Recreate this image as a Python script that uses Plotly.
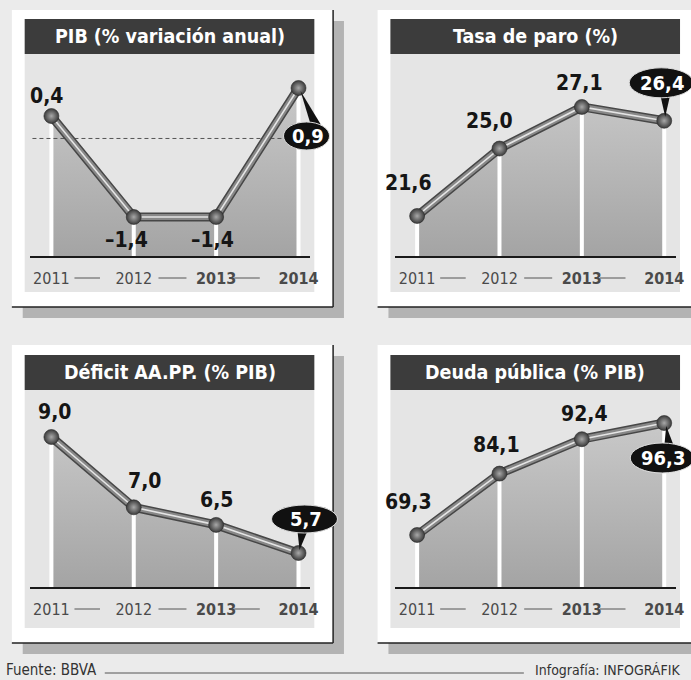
import plotly.graph_objects as go

W, H = 691, 680

# ---------------- data ----------------
years = ["2011", "2012", "2013", "2014"]
year_ticktext = ["2011", "2012", "<b>2013</b>", "<b>2014</b>"]
titles = ["PIB (% variación anual)", "Tasa de paro (%)",
          "Déficit AA.PP. (% PIB)", "Deuda pública (% PIB)"]
pib = [0.4, -1.4, -1.4, 0.9]
paro = [21.6, 25.0, 27.1, 26.4]
deficit = [9.0, 7.0, 6.5, 5.7]
deuda = [69.3, 84.1, 92.4, 96.3]
pib_reference = 0.0
source_text = "Fuente: BBVA"
credit_text = "Infografía: INFOGRÁFIK"

FONT = "DejaVu Sans Condensed, Liberation Sans Narrow, Roboto Condensed, Arial Narrow, sans-serif"

XR = [-0.264, 3.144]   # x-axis range shared by all panels


def fmt(v):
    s = f"{abs(v):.1f}".replace(".", ",")
    return ("–" + s) if v < 0 else s


def PX(px):
    return px / W


def PY(py):
    return 1 - py / H


# ---------------- panel layout (pixels) ----------------
panels = [
    dict(vals=pib, L=25, top=19, tb=54, bot=292, base=256, yr=(-2.095, 1.506),
         card=(12, 10, 337, 307),
         lab=[(-5, 20), (-7, -23), (-4, -23)], bub=(8, -48, 23, 14),
         ptr=[(2, -3), (12, -36), (22, -36)]),
    dict(vals=paro, L=395, top=19, tb=54, bot=292, base=256, yr=(19.58, 29.77),
         card=(382, 10, 707, 307),
         lab=[(-9, 33), (-10, 28), (-2, 24)], bub=(-3, 38, 32, 15),
         ptr=[(1, 4), (-4, 26), (6, 26)]),
    dict(vals=deficit, L=25, top=355, tb=390, bot=628, base=587, yr=(4.733, 10.337),
         card=(12, 345, 337, 643),
         lab=[(3, 25), (11, 26), (0, 25)], bub=(6, 34, 33, 14),
         ptr=[(1, 3), (-1, 22), (9, 22)]),
    dict(vals=deuda, L=395, top=355, tb=390, bot=628, base=587, yr=(56.76, 104.26),
         card=(382, 345, 707, 643),
         lab=[(-9, 33), (-3, 29), (3, 25)], bub=(-2, -35, 32, 15),
         ptr=[(2, -3), (0, -24), (10, -24)]),
]

fig = go.Figure()
shapes = []
annotations = []
xpos = list(range(len(years)))

for i, p in enumerate(panels):
    k = "" if i == 0 else str(i + 1)
    xa, ya = "x" + k, "y" + k
    L = p["L"]
    c0, c1, c2, c3 = p["card"]
    xdom = [PX(L + 5), PX(L + 289)]
    ydom = [PY(p["base"]), PY(p["tb"])]

    def to_paper(x, y, xdom=xdom, ydom=ydom, yr=p["yr"]):
        return (xdom[0] + (x - XR[0]) / (XR[1] - XR[0]) * (xdom[1] - xdom[0]),
                ydom[0] + (y - yr[0]) / (yr[1] - yr[0]) * (ydom[1] - ydom[0]))

    # shadow, card, card edges
    shapes.append(dict(type="rect", xref="paper", yref="paper", layer="below",
                       x0=PX(c0 + 11), x1=PX(c2 + 11), y0=PY(c1 + 11), y1=PY(c3 + 11),
                       fillcolor="#b3b3b3", line_width=0))
    shapes.append(dict(type="rect", xref="paper", yref="paper", layer="below",
                       x0=PX(c0), x1=PX(c2), y0=PY(c1), y1=PY(c3),
                       fillcolor="#ffffff", line_width=0))
    shapes.append(dict(type="line", xref="paper", yref="paper", layer="below",
                       x0=PX(c0), x1=PX(c2), y0=PY(c3), y1=PY(c3),
                       line=dict(color="#222222", width=1.5)))
    shapes.append(dict(type="line", xref="paper", yref="paper", layer="below",
                       x0=PX(c2), x1=PX(c2), y0=PY(c1), y1=PY(c3),
                       line=dict(color="#222222", width=1.5)))
    # inner panel + title bar
    shapes.append(dict(type="rect", xref="paper", yref="paper", layer="below",
                       x0=PX(L), x1=PX(L + 293), y0=PY(p["top"]), y1=PY(p["bot"]),
                       fillcolor="#e5e5e5", line_width=0))
    shapes.append(dict(type="rect", xref="paper", yref="paper", layer="below",
                       x0=PX(L), x1=PX(L + 293), y0=PY(p["top"]), y1=PY(p["tb"]),
                       fillcolor="#3c3c3c", line_width=0))
    annotations.append(dict(xref="paper", yref="paper", x=PX(L + 146.5),
                            y=PY((p["top"] + p["tb"]) / 2), text=titles[i],
                            showarrow=False, xanchor="center", yanchor="middle",
                            font=dict(family=FONT, size=19.5, color="white", weight="bold")))

    # axes
    axis_x = dict(domain=xdom, range=XR, anchor=ya, showgrid=False,
                  zeroline=False, showline=True, linecolor="#1a1a1a", linewidth=2,
                  tickvals=xpos, ticktext=year_ticktext, ticks="",
                  tickfont=dict(family=FONT, size=16, color="#4a4a4a"),
                  ticklabelstandoff=7, fixedrange=True)
    axis_y = dict(domain=ydom, range=list(p["yr"]), anchor=xa, showgrid=False,
                  zeroline=False, showline=False, showticklabels=False, fixedrange=True)
    fig.layout["xaxis" + k] = axis_x
    fig.layout["yaxis" + k] = axis_y

    vals = p["vals"]
    ylo = p["yr"][0]
    # gradient area
    fig.add_trace(go.Scatter(x=xpos + [xpos[-1], xpos[0]], y=vals + [ylo, ylo],
                             xaxis=xa, yaxis=ya, mode="none", fill="toself",
                             fillgradient=dict(type="vertical",
                                               colorscale=[[0, "#a4a4a4"], [1, "#d0d0d0"]],
                                               start=ylo, stop=p["yr"][1]),
                             hoverinfo="skip", showlegend=False))
    # white separators
    vx, vy = [], []
    for xx, v in zip(xpos, vals):
        vx += [xx, xx, None]
        vy += [ylo, v, None]
    fig.add_trace(go.Scatter(x=vx, y=vy, xaxis=xa, yaxis=ya, mode="lines",
                             line=dict(color="white", width=4), hoverinfo="skip",
                             showlegend=False))
    if i == 0:
        fig.add_trace(go.Scatter(x=[-0.23, 3.1], y=[pib_reference, pib_reference],
                                 xaxis=xa, yaxis=ya, mode="lines",
                                 line=dict(color="#555555", width=1, dash="4px,3px"),
                                 hoverinfo="skip", showlegend=False))
    # tube line
    for col, wd in [("#474747", 9), ("#888888", 6), ("#e4e4e4", 1.6)]:
        fig.add_trace(go.Scatter(x=xpos, y=vals, xaxis=xa, yaxis=ya, mode="lines",
                                 line=dict(color=col, width=wd), hoverinfo="skip",
                                 showlegend=False))
    # spheres
    fig.add_trace(go.Scatter(x=xpos, y=vals, xaxis=xa, yaxis=ya, mode="markers",
                             marker=dict(size=15, color="#3a3a3a",
                                         gradient=dict(type="radial", color="#a8a8a8"),
                                         line=dict(color="#2a2a2a", width=0.6)),
                             hoverinfo="skip", showlegend=False, cliponaxis=False))

    # value labels
    for j in range(3):
        dx, dy = p["lab"][j]
        annotations.append(dict(xref=xa, yref=ya, x=xpos[j], y=vals[j], xshift=dx, yshift=dy,
                                text=fmt(vals[j]), showarrow=False,
                                font=dict(family=FONT, size=21, color="#151515", weight="bold")))
    # bubble for last value (anchored at the last data point, converted to paper)
    ax, ay = to_paper(xpos[-1], vals[-1])
    bx, by, rx, ry = p["bub"]
    (t1x, t1y), (t2x, t2y), (t3x, t3y) = p["ptr"]
    shapes.append(dict(type="path", xref="paper", yref="paper", xsizemode="pixel",
                       ysizemode="pixel", xanchor=ax, yanchor=ay, layer="above",
                       path=f"M {t1x},{t1y} L {t2x},{t2y} L {t3x},{t3y} Z",
                       fillcolor="#111111", line_width=0))
    shapes.append(dict(type="circle", xref="paper", yref="paper", xsizemode="pixel",
                       ysizemode="pixel", xanchor=ax, yanchor=ay, layer="above",
                       x0=bx - rx, x1=bx + rx, y0=by - ry, y1=by + ry,
                       fillcolor="#111111", line=dict(color="#dddddd", width=1)))
    annotations.append(dict(xref=xa, yref=ya, x=xpos[-1], y=vals[-1], xshift=bx + 1, yshift=by,
                            text=fmt(vals[-1]), showarrow=False,
                            font=dict(family=FONT, size=20, color="white", weight="bold")))

    # dashes between year labels
    for g0, g1 in [(0.28, 0.59), (1.30, 1.64), (2.22, 2.53)]:
        shapes.append(dict(type="line", xref=xa, yref="paper", layer="below",
                           x0=g0, x1=g1, y0=PY(p["base"] + 22), y1=PY(p["base"] + 22),
                           line=dict(color="#555555", width=1)))

# footer
annotations.append(dict(xref="paper", yref="paper", x=PX(4), y=PY(670), text=source_text,
                        showarrow=False, xanchor="left", yanchor="middle",
                        font=dict(family=FONT, size=15, color="#333333")))
annotations.append(dict(xref="paper", yref="paper", x=PX(690), y=PY(670), text=credit_text,
                        showarrow=False, xanchor="right", yanchor="middle",
                        font=dict(family=FONT, size=14, color="#333333")))
shapes.append(dict(type="line", xref="paper", yref="paper", layer="below",
                   x0=PX(106), x1=PX(530), y0=PY(673), y1=PY(673),
                   line=dict(color="#555555", width=1)))

fig.update_layout(width=W, height=H, margin=dict(l=0, r=0, t=0, b=0, pad=0),
                  paper_bgcolor="#ebebeb", plot_bgcolor="rgba(0,0,0,0)",
                  shapes=shapes, annotations=annotations, showlegend=False,
                  font=dict(family=FONT))

fig.write_html("out.html", config=dict(displayModeBar=False))
